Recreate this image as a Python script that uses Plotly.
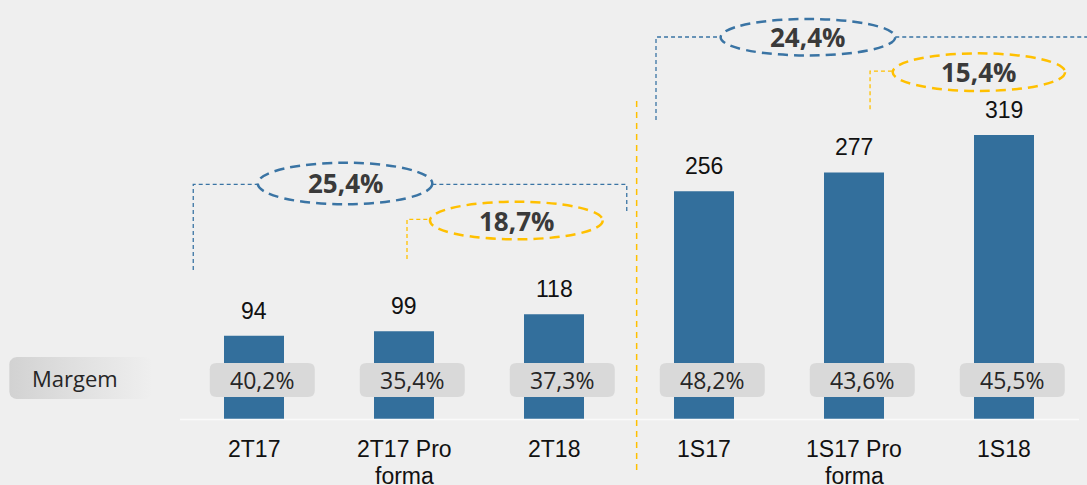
import numpy as np
import plotly.graph_objects as go

# ---------------- data ----------------
categories = ["2T17", "2T17 Pro<br>forma", "2T18", "1S17", "1S17 Pro<br>forma", "1S18"]
values = [94, 99, 118, 256, 277, 319]
margins = ["40,2%", "35,4%", "37,3%", "48,2%", "43,6%", "45,5%"]
growth_total = ["25,4%", "24,4%"]      # blue dashed ellipses
growth_proforma = ["18,7%", "15,4%"]   # yellow dashed ellipses
row_label = "Margem"

# ---------------- style ----------------
BG = "#efefef"
BAR = "#336f9c"
BLUE = "#3a74a4"
YEL = "#ffc000"
BOX = "#d9d9d9"
TXT = "#262626"
PCT_FONT = "Open Sans"
NUM_FONT = "Liberation Sans"

xpos = list(range(len(categories)))

fig = go.Figure()
fig.add_trace(go.Bar(x=xpos, y=values, width=0.4, marker=dict(color=BAR, line=dict(width=0)),
                     hoverinfo="skip", showlegend=False))


def rrect_path(x0, x1, y0, y1, rx, ry):
    return (f"M {x0+rx},{y0} L {x1-rx},{y0} Q {x1},{y0} {x1},{y0+ry} "
            f"L {x1},{y1-ry} Q {x1},{y1} {x1-rx},{y1} L {x0+rx},{y1} "
            f"Q {x0},{y1} {x0},{y1-ry} L {x0},{y0+ry} Q {x0},{y0} {x0+rx},{y0} Z")


def rrect_poly(x0, x1, y0, y1, rx, ry, n=8):
    xs, ys = [], []
    corners = [(x1 - rx, y0 + ry, -np.pi / 2, 0), (x1 - rx, y1 - ry, 0, np.pi / 2),
               (x0 + rx, y1 - ry, np.pi / 2, np.pi), (x0 + rx, y0 + ry, np.pi, 1.5 * np.pi)]
    for cx, cy, a0, a1 in corners:
        t = np.linspace(a0, a1, n)
        xs += list(cx + rx * np.cos(t))
        ys += list(cy + ry * np.sin(t))
    xs.append(xs[0]); ys.append(ys[0])
    return xs, ys


shapes = []
annotations = []

# "Margem" gradient label box
mx, my = rrect_poly(-1.631, -0.68, 23.0, 70.0, 0.05, 8.0)
fig.add_trace(go.Scatter(x=mx, y=my, mode="lines", line=dict(width=0), fill="toself",
                         fillgradient=dict(type="horizontal",
                                           colorscale=[[0, "#d2d2d2"], [0.55, "#e2e2e2"], [1, BG]]),
                         hoverinfo="skip", showlegend=False))
annotations.append(dict(x=-1.193, y=46.5, text=row_label, showarrow=False,
                        font=dict(family=PCT_FONT, size=22, color=TXT)))

# baseline
shapes.append(dict(type="line", xref="x", yref="y", x0=-0.493, x1=5.5, y0=0, y1=0,
                   line=dict(color="#fafafa", width=1.5), layer="above"))

# category label line positions (value units below the baseline)
CAT_LINE_Y = [-33.1, -63.3]

# margin boxes + labels, value labels, category labels
for i, (v, m, c) in enumerate(zip(values, margins, categories)):
    cx = i + 0.055
    shapes.append(dict(type="path", xref="x", yref="y",
                       path=rrect_path(cx - 0.35, cx + 0.35, 25.2, 63.4, 0.045, 7.0),
                       fillcolor=BOX, line=dict(width=0), layer="above"))
    annotations.append(dict(x=cx, y=44.3, text=m, showarrow=False,
                            font=dict(family=PCT_FONT, size=23, color=TXT)))
    annotations.append(dict(x=i, y=v, text=str(v), showarrow=False, yanchor="bottom", yshift=10,
                            font=dict(family=NUM_FONT, size=23, color="#111111")))
    for k, line in enumerate(c.split("<br>")):
        annotations.append(dict(x=i, y=CAT_LINE_Y[k], text=line, showarrow=False, yanchor="middle",
                                font=dict(family=NUM_FONT, size=23, color="#111111")))

# growth brackets (decorations)
brackets = [
    dict(label=growth_total[0], color=BLUE, ell=(0.025, 1.189, 241.3, 287.9),
         lines=[[(-0.405, 167.6), (-0.405, 263.5), (0.025, 263.5)],
                [(1.189, 263.5), (2.485, 263.5), (2.485, 230.4)]]),
    dict(label=growth_proforma[0], color=YEL, ell=(1.173, 2.325, 202.0, 244.2),
         lines=[[(1.02, 179.9), (1.02, 224.4), (1.173, 224.4)]]),
    dict(label=growth_total[1], color=BLUE, ell=(3.111, 4.275, 408.1, 449.0),
         lines=[[(2.68, 335.8), (2.68, 428.8), (3.111, 428.8)],
                [(4.275, 428.8), (5.56, 428.8)]]),
    dict(label=growth_proforma[1], color=YEL, ell=(4.258, 5.407, 368.3, 410.5),
         lines=[[(4.107, 347.8), (4.107, 390.5), (4.258, 390.5)]]),
]
for b in brackets:
    x0, x1, y0, y1 = b["ell"]
    shapes.append(dict(type="circle", xref="x", yref="y", x0=x0, x1=x1, y0=y0, y1=y1,
                       fillcolor="rgba(0,0,0,0)",
                       line=dict(color=b["color"], width=2.5, dash="10px,6px"), layer="above"))
    for pts in b["lines"]:
        p = "M " + " L ".join(f"{px},{py}" for px, py in pts)
        shapes.append(dict(type="path", xref="x", yref="y", path=p,
                           line=dict(color=b["color"], width=1.3, dash="4px,3px"), layer="above"))
    annotations.append(dict(x=(x0 + x1) / 2, y=(y0 + y1) / 2, text="<b>" + b["label"] + "</b>",
                            showarrow=False,
                            font=dict(family=PCT_FONT, size=26, color="#3a3a3a")))

# vertical separator between quarter and semester blocks
shapes.append(dict(type="line", xref="x", yref="y", x0=2.551, x1=2.551, y0=-56.6, y1=360.4,
                   line=dict(color=YEL, width=1.5, dash="6px,5px"), layer="above"))

fig.update_layout(
    width=1087, height=485,
    margin=dict(l=0, r=0, t=0, b=0),
    paper_bgcolor=BG, plot_bgcolor=BG,
    xaxis=dict(visible=False, range=[-1.6933, 5.5533], fixedrange=True),
    yaxis=dict(visible=False, range=[-73.4, 470.3], fixedrange=True),
    shapes=shapes, annotations=annotations,
    showlegend=False,
)

fig.write_html("out.html", config=dict(displayModeBar=False),
               post_script="document.body.style.margin='0';document.body.style.background='#efefef';")
